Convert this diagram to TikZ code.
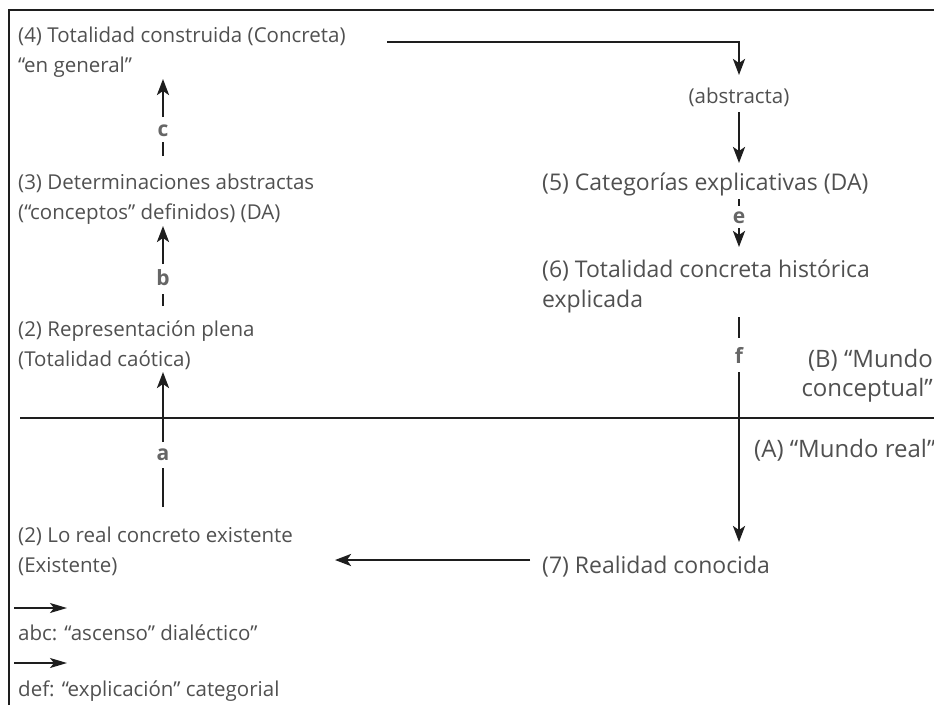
\documentclass[tikz,border=0pt]{standalone}
\usepackage{fontspec}
\setmainfont{Open Sans}
\usetikzlibrary{arrows.meta}
\definecolor{txt}{HTML}{505050}
\definecolor{lbl}{HTML}{666666}
\definecolor{ln}{HTML}{1E1E1E}
\begin{document}
\begin{tikzpicture}[x=1pt,y=-1pt,
  txtnode/.style={anchor=west, align=left, text=txt, font=\fontsize{20.5}{30}\selectfont, inner sep=0pt},
  txtbig/.style={txtnode, font=\fontsize{23}{30}\selectfont},
  txtbigger/.style={txtnode, font=\fontsize{24}{29}\selectfont},
  lblnode/.style={text=lbl, font=\fontsize{21}{24}\selectfont\bfseries, inner sep=0pt},
  conn/.style={draw=ln, line width=2.6pt},
  arr/.style={conn, -{Stealth[length=16pt,width=12pt,inset=4pt]}},
  legarr/.style={draw=ln, line width=1.6pt, -{Stealth[length=17pt,width=10pt,inset=4pt]}},
  frame/.style={draw=ln, line width=1.5pt}
]
\useasboundingbox (0,0) rectangle (934,705);
\draw[frame] (9,705) -- (9,10) -- (934,10);

% text nodes
\node[txtnode] (n4) at (18,52) {(4) Totalidad construida (Concreta)\\“en general”};
\node[txtnode] (n3) at (18,199) {(3) Determinaciones abstractas\\(“conceptos” definidos) (DA)};
\node[txtnode] (n2) at (18,345) {(2) Representación plena\\(Totalidad caótica)};
\node[txtnode] (n1) at (18,551) {(2) Lo real concreto existente\\(Existente)};
\node[txtnode, anchor=center] (abs) at (739,97) {(abstracta)};
\node[txtbig] (n5) at (542,184) {(5) Categorías explicativas (DA)};
\node[txtbig] (n6) at (542,286) {(6) Totalidad concreta histórica\\explicada};
\node[txtbig] (n7) at (542,567) {(7) Realidad conocida};
\node[txtbigger, anchor=east, align=right] (wB) at (933,376) {(B) “Mundo\\conceptual”};
\node[txtbigger] (wA) at (754,450) {(A) “Mundo real”};
\node[txtnode] (leg1) at (18,633) {abc: “ascenso” dialéctico”};
\node[txtnode] (leg2) at (18,691) {def: “explicación” categorial};

% letter labels
\node[lblnode] (lc) at (163,131) {c};
\node[lblnode] (lb) at (163,278) {b};
\node[lblnode] (la) at (163,455) {a};
\node[lblnode] (le) at (739,218) {e};
\node[lblnode] (lf) at (739,355) {f};

% coordinates of connector ends
\coordinate (c0) at (163,156); \coordinate (c1) at (163,142);
\coordinate (c2) at (163,117); \coordinate (c3) at (163,79);
\coordinate (b0) at (163,306); \coordinate (b1) at (163,294);
\coordinate (b2) at (163,264); \coordinate (b3) at (163,226);
\coordinate (a0) at (163,507); \coordinate (a1) at (163,468);
\coordinate (a2) at (163,442); \coordinate (a3) at (163,372);
\coordinate (t0) at (387,42); \coordinate (t1) at (739,75);
\coordinate (s0) at (739,112); \coordinate (s1) at (739,163);
\coordinate (e0) at (739,199); \coordinate (e1) at (739,206);
\coordinate (e2) at (739,228); \coordinate (e3) at (739,247);
\coordinate (f0) at (739,317); \coordinate (f1) at (739,338);
\coordinate (f2) at (739,372); \coordinate (f3) at (739,542);
\coordinate (r0) at (530,560); \coordinate (r1) at (335,560);
\coordinate (h0) at (20,418); \coordinate (h1) at (934,418);
\coordinate (l0) at (14,608); \coordinate (l1) at (67,608);
\coordinate (m0) at (14,663); \coordinate (m1) at (67,663);

% divider
\draw[conn] (h0) -- (h1);

% ascent a b c
\draw[conn] (c0) -- (c1); \draw[arr] (c2) -- (c3);
\draw[conn] (b0) -- (b1); \draw[arr] (b2) -- (b3);
\draw[conn] (a0) -- (a1); \draw[arr] (a2) -- (a3);

% right column
\draw[arr] (t0) -| (t1);
\draw[arr] (s0) -- (s1);
\draw[conn] (e0) -- (e1); \draw[arr] (e2) -- (e3);
\draw[conn] (f0) -- (f1); \draw[arr] (f2) -- (f3);
\draw[arr] (r0) -- (r1);

% legend
\draw[legarr] (l0) -- (l1);
\draw[legarr] (m0) -- (m1);
\end{tikzpicture}
\end{document}
